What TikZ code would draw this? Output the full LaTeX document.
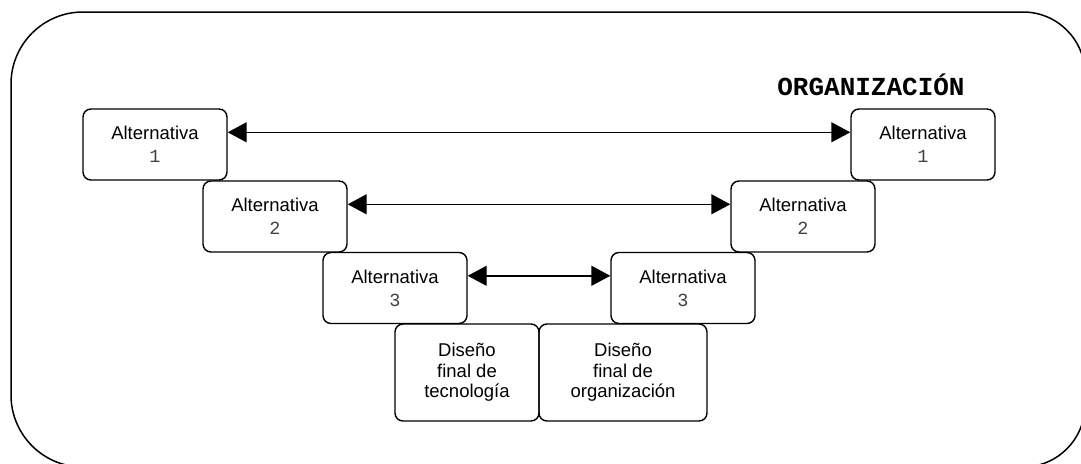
\documentclass[tikz,border=0pt]{standalone}
\usepackage{fontspec}
\setmainfont{Liberation Sans}
\newfontfamily\monofont{Liberation Mono}
\usetikzlibrary{arrows.meta}
\tikzset{
  x=1pt, y=-1pt,
  stage/.style={draw, line width=1.4pt, rounded corners=8pt, minimum width=144pt,
    minimum height=71pt, inner sep=0pt, align=center,
    font=\fontsize{18.5}{23}\selectfont},
  finalbox/.style={stage, minimum height=97pt, font=\fontsize{18.5}{20.5}\selectfont},
  biarrow/.style={line width=1.4pt, {Triangle[length=19pt,width=20pt]}-{Triangle[length=19pt,width=20pt]}},
  frameline/.style={line width=1.5pt},
}
\newcommand{\numtag}[1]{{\monofont\color{black!75}#1}}
\begin{document}
\begin{tikzpicture}
\useasboundingbox (0,0) rectangle (1081,463);
\clip (0,0) rectangle (1081,463);
% outer rounded frame
\draw[frameline] (83,12) -- (1023,12) arc[start angle=270,end angle=360,radius=62]
  -- (1085,405) arc[start angle=0,end angle=90,radius=62]
  -- (83,467) arc[start angle=90,end angle=180,radius=72]
  -- (11,84) arc[start angle=180,end angle=270,radius=72] -- cycle;
% title
\node[font=\monofont\bfseries\fontsize{26}{30}\selectfont] (title) at (871,85) {ORGANIZACIÓN};
% alternatives, left and right
\node[stage] (l1) at (155,144.5) {Alternativa\\\numtag{1}};
\node[stage] (r1) at (923,144.5) {Alternativa\\\numtag{1}};
\node[stage] (l2) at (275,216.5) {Alternativa\\\numtag{2}};
\node[stage] (r2) at (803,216.5) {Alternativa\\\numtag{2}};
\node[stage] (l3) at (395,288) {Alternativa\\\numtag{3}};
\node[stage] (r3) at (683,288) {Alternativa\\\numtag{3}};
% final designs
\node[finalbox] (d1) at (467,372.5) {Diseño\\final de\\tecnología};
\node[finalbox, minimum width=168pt] (d2) at (623,372.5) {Diseño\\final de\\organización};
% links between paired alternatives
\draw[biarrow] ([yshift=-24pt]l1.north east) -- ([yshift=-24pt]r1.north west);
\draw[biarrow] ([yshift=-24pt]l2.north east) -- ([yshift=-24pt]r2.north west);
\draw[biarrow] ([yshift=-24pt]l3.north east) -- ([yshift=-24pt]r3.north west);
\end{tikzpicture}
\end{document}
